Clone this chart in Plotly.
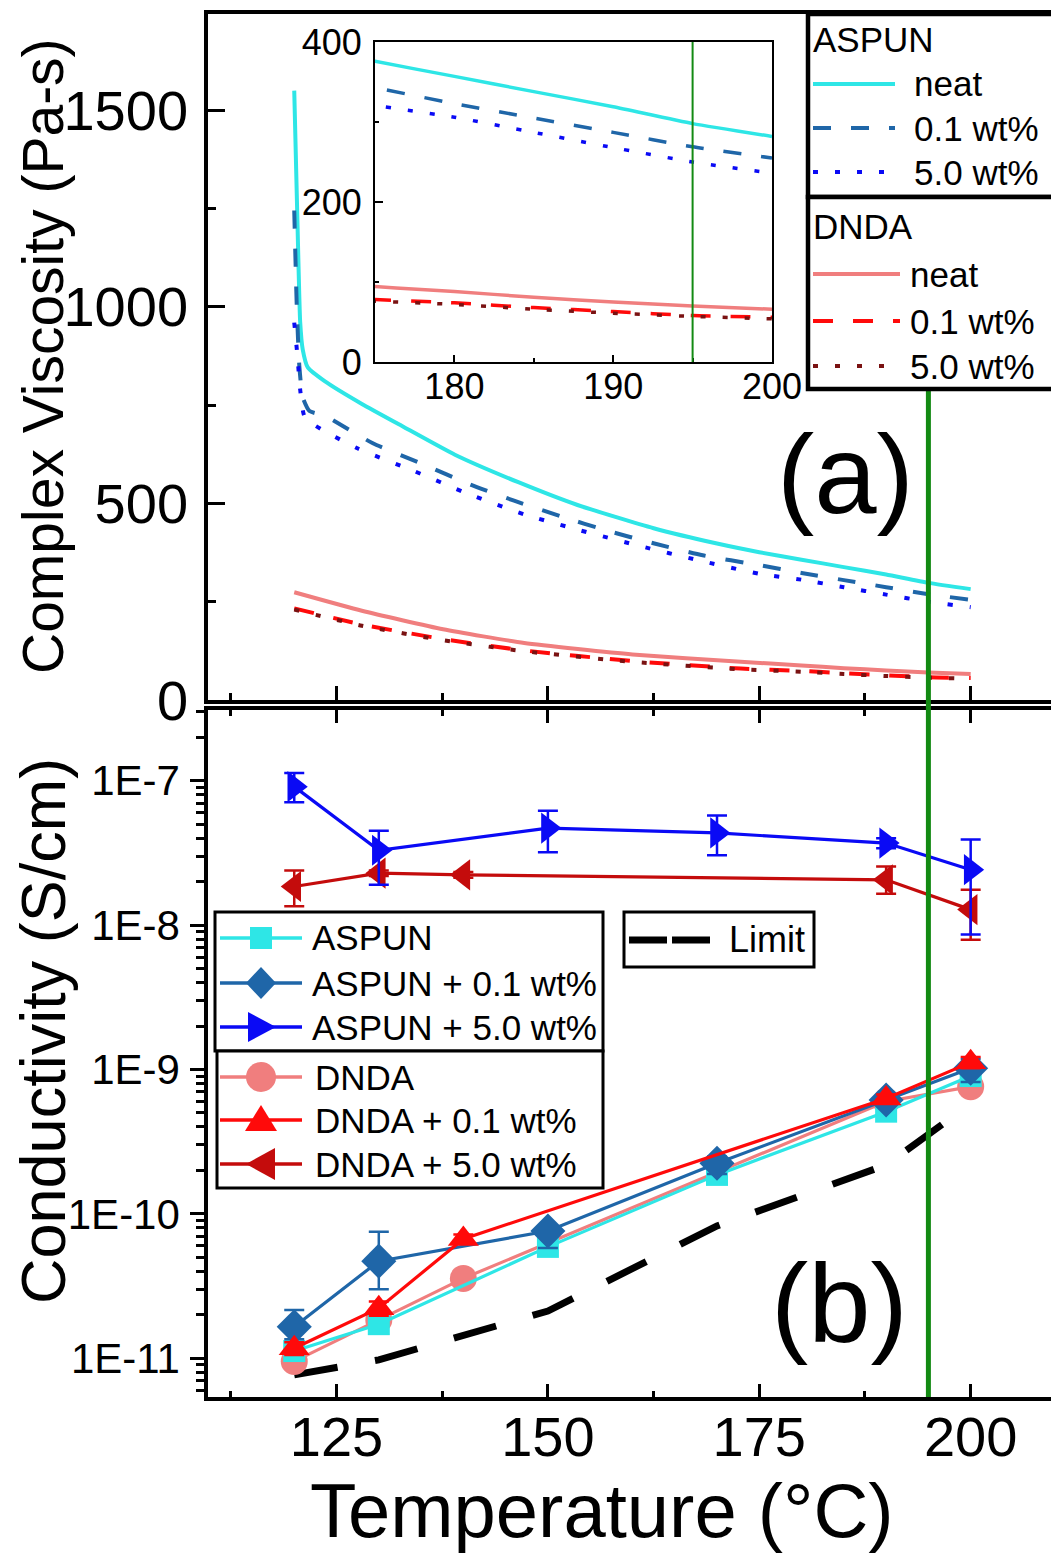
import plotly.graph_objects as go

# ---------------- (a) complex viscosity vs temperature ----------------
visc_aspun_neat_T = [120.0, 120.4, 120.7, 121.0, 121.6, 123.6, 128.0, 133.0, 139.0, 146.5, 153.5,
                     162.5, 170.0, 175.0, 180.0, 185.0, 190.0, 195.0, 200.0]
visc_aspun_neat = [1550, 1196, 962, 892, 846, 811, 753, 694, 624, 554, 496,
                   437, 398, 376, 357, 338, 319, 298, 282]

visc_aspun_01_T = [120.0, 120.3, 120.6, 121.0, 121.8, 123.6, 129.3, 135.1, 140.8, 146.0, 151.7,
                   156.8, 162.6, 168.3, 175.0, 180.0, 185.0, 190.0, 195.0, 200.0]
visc_aspun_01 = [1245, 1000, 850, 770, 735, 723, 653, 601, 548, 507, 466,
                 432, 398, 368, 343, 323, 305, 287, 269, 255]

visc_aspun_5_T = [120.0, 120.4, 120.7, 121.3, 127.4, 134.1, 140.5, 147.2, 153.9, 161.0, 167.7,
                  175.0, 180.0, 185.0, 190.0, 195.0, 200.0]
visc_aspun_5 = [960, 870, 790, 717, 641, 583, 525, 472, 431, 391, 356,
                321, 306, 287, 268, 250, 236]

visc_dnda_T = [120.0, 128.0, 137.6, 147.2, 160.0, 172.8, 180.0, 185.0, 190.0, 195.0, 200.0]
visc_dnda_neat = [274, 227, 180, 145, 116, 97, 88, 81, 75, 70, 66]
visc_dnda_01 = [233, 192, 155, 126, 99, 80, 74, 68, 63, 58, 56]
visc_dnda_5 = [230, 189, 152, 124, 97, 78, 72, 66, 61, 57, 54]

# ---------------- (b) conductivity vs temperature ----------------
cond_aspun_T = [120, 130, 150, 170, 190, 200]
cond_aspun_neat = [1.12e-11, 1.72e-11, 5.9e-11, 1.86e-10, 5.1e-10, 9.0e-10]
cond_aspun_neat_err = [1.2e-12, 1.8e-12, 6e-12, 1.5e-11, 4e-11, 8e-11]
cond_aspun_01 = [1.65e-11, 4.7e-11, 7.6e-11, 2.24e-10, 6.15e-10, 1.02e-9]
cond_aspun_01_errp = [0.51e-11, 2.8e-11, 0.6e-11, 2.5e-11, 5e-11, 1.6e-10]
cond_aspun_01_errm = [0.3e-11, 1.7e-11, 1.8e-11, 3.5e-11, 5e-11, 2.0e-10]
cond_aspun_5 = [9.1e-8, 3.3e-8, 4.7e-8, 4.35e-8, 3.7e-8, 2.42e-8]
cond_aspun_5_errp = [2.2e-8, 1.2e-8, 1.5e-8, 1.4e-8, 0.3e-8, 1.5e-8]
cond_aspun_5_errm = [2.0e-8, 1.4e-8, 1.5e-8, 1.3e-8, 0.3e-8, 1.56e-8]

cond_dnda_T = [120, 130, 140, 190, 200]
cond_dnda_neat = [9.5e-12, 1.84e-11, 3.57e-11, 6.0e-10, 7.6e-10]
cond_dnda_neat_err = [1e-12, 2e-12, 3e-12, 4e-11, 6e-11]
cond_dnda_01 = [1.17e-11, 2.22e-11, 6.7e-11, 6.3e-10, 1.12e-9]
cond_dnda_01_err = [1.2e-12, 2.5e-12, 5e-12, 4e-11, 1e-10]
cond_dnda_5 = [1.85e-8, 2.29e-8, 2.23e-8, 2.06e-8, 1.28e-8]
cond_dnda_5_errp = [0.54e-8, 0.1e-8, 0.1e-8, 0.49e-8, 0.48e-8]
cond_dnda_5_errm = [0.50e-8, 0.1e-8, 0.1e-8, 0.41e-8, 0.49e-8]

limit_T = [120, 130, 150, 170, 190, 200]
limit_cond = [7.66e-12, 9.73e-12, 2.12e-11, 8.24e-11, 2.18e-10, 5.78e-10]

marker_temp = 195
xticks = [125, 150, 175, 200]
cond_ticks = [1e-11, 1e-10, 1e-9, 1e-8, 1e-7]
cond_ticktext = ["1E-11", "1E-10", "1E-9", "1E-8", "1E-7"]

# ---------------- styling ----------------
FONT = "Liberation Sans, Arial, sans-serif"
C_CYAN = "#2EE6E6"
C_STEEL = "#1F66A8"
C_BLUE = "#0A0AF5"
C_CORAL = "#F07E7E"
C_RED = "#FF0A0A"
C_MAROON = "#7A1212"
C_DKRED = "#C40C0C"
C_GREEN = "#138A13"

W, H = 1051, 1555
def px_x(p):
    return p / W
def px_y(p):
    return 1 - p / H

fig = go.Figure()

visc_series = [
    ("neat", visc_aspun_neat_T, visc_aspun_neat, C_CYAN, "solid"),
    ("0.1 wt%", visc_aspun_01_T, visc_aspun_01, C_STEEL, "18px,20px"),
    ("5.0 wt%", visc_aspun_5_T, visc_aspun_5, C_BLUE, "5px,17px"),
    ("neat", visc_dnda_T, visc_dnda_neat, C_CORAL, "solid"),
    ("0.1 wt%", visc_dnda_T, visc_dnda_01, C_RED, "20px,20px"),
    ("5.0 wt%", visc_dnda_T, visc_dnda_5, C_MAROON, "5px,17px"),
]
for name, t, v, col, dash in visc_series:
    fig.add_trace(go.Scatter(x=t, y=v, mode="lines", name=name,
                             line=dict(color=col, width=4, dash=dash, shape="spline", smoothing=0.5),
                             xaxis="x", yaxis="y"))
# inset: same curves, zoomed window
for name, t, v, col, dash in visc_series:
    fig.add_trace(go.Scatter(x=t, y=v, mode="lines", name=name,
                             line=dict(color=col, width=3.5, dash=dash, shape="spline", smoothing=0.5),
                             xaxis="x3", yaxis="y3"))

# conductivity
fig.add_trace(go.Scatter(x=limit_T, y=limit_cond, mode="lines", name="Limit",
                         line=dict(color="black", width=7, dash="44px,38px"),
                         xaxis="x2", yaxis="y2"))

def err(col, plus, minus=None):
    d = dict(type="data", array=plus, color=col, thickness=2.5, width=10, visible=True)
    if minus is not None:
        d.update(symmetric=False, arrayminus=minus)
    return d

cond_series = [
    ("DNDA", cond_dnda_T, cond_dnda_neat, C_CORAL, "circle", 27, err(C_CORAL, cond_dnda_neat_err)),
    ("ASPUN", cond_aspun_T, cond_aspun_neat, C_CYAN, "square", 22, err(C_CYAN, cond_aspun_neat_err)),
    ("ASPUN + 0.1 wt%", cond_aspun_T, cond_aspun_01, C_STEEL, "diamond", 27,
     err(C_STEEL, cond_aspun_01_errp, cond_aspun_01_errm)),
    ("DNDA + 0.1 wt%", cond_dnda_T, cond_dnda_01, C_RED, "triangle-up", 27, err(C_RED, cond_dnda_01_err)),
    ("DNDA + 5.0 wt%", cond_dnda_T, cond_dnda_5, C_DKRED, "triangle-left", 27,
     err(C_DKRED, cond_dnda_5_errp, cond_dnda_5_errm)),
    ("ASPUN + 5.0 wt%", cond_aspun_T, cond_aspun_5, C_BLUE, "triangle-right", 27,
     err(C_BLUE, cond_aspun_5_errp, cond_aspun_5_errm)),
]
for name, t, v, col, sym, size, e in cond_series:
    fig.add_trace(go.Scatter(x=t, y=v, mode="lines+markers", name=name,
                             line=dict(color=col, width=3.2),
                             marker=dict(symbol=sym, size=size, color=col, line=dict(width=0)),
                             error_y=e, xaxis="x2", yaxis="y2"))

x_dom = [px_x(208), 1.0]
x_range = [109.8, 209.5]
axis_common = dict(showline=True, linecolor="black", linewidth=3.5, showgrid=False, zeroline=False,
                   tickcolor="black", tickwidth=3)

fig.update_layout(
    width=W, height=H, margin=dict(l=0, r=0, t=0, b=0, autoexpand=False),
    paper_bgcolor="white", plot_bgcolor="white", showlegend=False,
    font=dict(family=FONT, color="black"),
    xaxis=dict(domain=x_dom, range=x_range, anchor="y", tickvals=xticks, showticklabels=False,
               ticks="inside", ticklen=14, mirror=True,
               minor=dict(dtick=12.5, tick0=112.5, ticks="inside", ticklen=7, tickwidth=3, tickcolor="black"),
               **axis_common),
    yaxis=dict(domain=[px_y(700), px_y(14)], range=[0, 1745], anchor="x",
               tickvals=[0, 500, 1000, 1500], ticks="inside", ticklen=17,
               tickfont=dict(size=56), ticklabelstandoff=5,
               minor=dict(tickvals=[250, 750, 1250], ticks="inside", ticklen=8, tickwidth=3, tickcolor="black"),
               **axis_common),
    xaxis2=dict(domain=x_dom, range=x_range, anchor="y2", tickvals=xticks,
                ticks="inside", ticklen=13, mirror="ticks", tickfont=dict(size=56), ticklabelstandoff=-12,
                minor=dict(dtick=12.5, tick0=112.5, ticks="inside", ticklen=6, tickwidth=3, tickcolor="black"),
                **axis_common),
    yaxis2=dict(domain=[px_y(1397), px_y(710)], type="log", range=[-11.269, -6.51], anchor="x2",
                tickvals=cond_ticks, ticktext=cond_ticktext, ticks="outside", ticklen=14,
                tickfont=dict(size=42), ticklabelstandoff=2,
                minor=dict(dtick="D1", ticks="outside", ticklen=8, tickwidth=2.5, tickcolor="black"),
                **axis_common),
    xaxis3=dict(domain=[px_x(375), px_x(772)], range=[175, 200], anchor="y3",
                tickvals=[180, 190, 200], ticks="inside", ticklen=7, mirror=True,
                tickfont=dict(size=36), ticklabelstandoff=-8,
                minor=dict(tickvals=[185, 195], ticks="inside", ticklen=4, tickwidth=2, tickcolor="black"),
                showline=True, linecolor="black", linewidth=2, showgrid=False, zeroline=False,
                tickcolor="black", tickwidth=2),
    yaxis3=dict(domain=[px_y(362), px_y(42)], range=[0, 400], anchor="x3",
                tickvals=[0, 200, 400], ticks="inside", ticklen=8, mirror=True,
                tickfont=dict(size=36), ticklabelstandoff=4,
                minor=dict(tickvals=[100, 300], ticks="inside", ticklen=4, tickwidth=2, tickcolor="black"),
                showline=True, linecolor="black", linewidth=2, showgrid=False, zeroline=False,
                tickcolor="black", tickwidth=2),
)

# processing-temperature marker (drawn before the legend boxes so they cover it)
fig.add_shape(type="line", xref="x", yref="paper", x0=marker_temp, x1=marker_temp,
              y0=px_y(1397), y1=px_y(14), line=dict(color=C_GREEN, width=5), layer="above")
fig.add_shape(type="line", xref="x3", yref="y3", x0=marker_temp, x1=marker_temp,
              y0=0, y1=400, line=dict(color=C_GREEN, width=2), layer="above")

# ---------------- legend boxes (pixel layout) ----------------
def marker_path(sym, cx, cy):
    X = lambda v: f"{px_x(v):.5f}"
    Y = lambda v: f"{px_y(v):.5f}"
    if sym == "square":
        h = 11
        pts = [(cx - h, cy - h), (cx + h, cy - h), (cx + h, cy + h), (cx - h, cy + h)]
    elif sym == "diamond":
        pts = [(cx, cy - 16), (cx + 15, cy), (cx, cy + 16), (cx - 15, cy)]
    elif sym == "triangle-up":
        pts = [(cx, cy - 15), (cx + 16, cy + 11), (cx - 16, cy + 11)]
    elif sym == "triangle-right":
        pts = [(cx + 15, cy), (cx - 13, cy + 15), (cx - 13, cy - 15)]
    elif sym == "triangle-left":
        pts = [(cx - 15, cy), (cx + 14, cy - 16), (cx + 14, cy + 16)]
    else:
        return None
    return "M " + " L ".join(f"{X(a)},{Y(b)}" for a, b in pts) + " Z"

def legend_box(x0, y0, x1, y1, bw):
    fig.add_shape(type="rect", xref="paper", yref="paper", x0=px_x(x0), x1=px_x(x1),
                  y0=px_y(y1), y1=px_y(y0), fillcolor="white",
                  line=dict(color="black", width=bw), layer="above")

def legend_text(text, x, y, size=35):
    fig.add_annotation(text=text, xref="paper", yref="paper", x=px_x(x), y=px_y(y),
                       xanchor="left", yanchor="middle", showarrow=False,
                       font=dict(size=size, family=FONT, color="black"))

def legend_row(label, color, dash, width, y, lx0, lx1, tx, sym=None, size=35):
    fig.add_shape(type="line", xref="paper", yref="paper", x0=px_x(lx0), x1=px_x(lx1),
                  y0=px_y(y), y1=px_y(y), line=dict(color=color, width=width, dash=dash),
                  layer="above")
    if sym == "circle":
        cx = (lx0 + lx1) / 2
        fig.add_shape(type="circle", xref="paper", yref="paper", x0=px_x(cx - 15), x1=px_x(cx + 15),
                      y0=px_y(y + 15), y1=px_y(y - 15), fillcolor=color, line=dict(width=0),
                      layer="above")
    elif sym:
        fig.add_shape(type="path", xref="paper", yref="paper",
                      path=marker_path(sym, (lx0 + lx1) / 2, y), fillcolor=color,
                      line=dict(width=0), layer="above")
    legend_text(label, tx, y, size)

# panel (a): two stacked boxes
legend_box(808, 14, 1065, 197, 4.5)
legend_text("ASPUN", 811, 40)
for (name, _, _, col, dash), y in zip(visc_series[:3], [84, 128, 172]):
    legend_row(name, col, dash, 4, y, 813, 895, 912)
legend_box(808, 197, 1065, 389, 4.5)
legend_text("DNDA", 811, 226)
for (name, _, _, col, dash), y in zip(visc_series[3:], [274, 321, 366]):
    legend_row(name, col, dash, 4, y, 813, 900, 908)

# panel (b): series boxes and limit box
by_name = {s[0]: s for s in cond_series}
legend_box(215, 912, 603, 1051, 3)
for name, y in zip(["ASPUN", "ASPUN + 0.1 wt%", "ASPUN + 5.0 wt%"], [938, 983, 1027]):
    s = by_name[name]
    legend_row(name, s[3], "solid", 3.5, y, 220, 302, 310, sym=s[4])
legend_box(217, 1051, 603, 1188, 3)
for name, y in zip(["DNDA", "DNDA + 0.1 wt%", "DNDA + 5.0 wt%"], [1077, 1120, 1164]):
    s = by_name[name]
    legend_row(name, s[3], "solid", 3.5, y, 220, 302, 313, sym=s[4])
legend_box(624, 912, 814, 967, 3)
legend_row("Limit", "black", "38px,5px", 7, 940, 629, 713, 727, size=36)

# ---------------- titles and panel labels ----------------
ann = [
    dict(text="Complex Viscosity (Pa-s)", x=px_x(43), y=px_y(356), textangle=-90, font=dict(size=57)),
    dict(text="Conductivity (S/cm)", x=px_x(43), y=px_y(1031), textangle=-90, font=dict(size=63)),
    dict(text="Temperature (\u00b0C)", x=px_x(602), y=px_y(1510), font=dict(size=76)),
    dict(text="(a)", x=px_x(845), y=px_y(474), font=dict(size=112)),
    dict(text="(b)", x=px_x(839), y=px_y(1303), font=dict(size=112)),
]
for a in ann:
    fig.add_annotation(xref="paper", yref="paper", showarrow=False, xanchor="center", yanchor="middle",
                       **a)

fig.write_html("out.html")
